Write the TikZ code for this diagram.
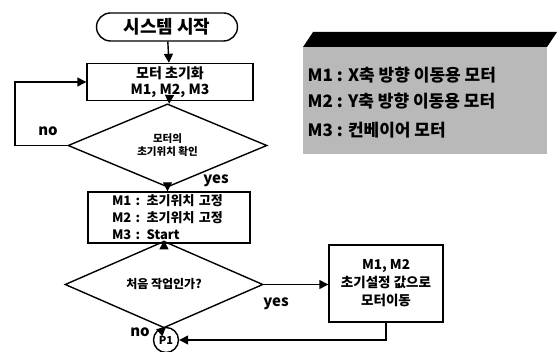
\documentclass[tikz,border=0pt]{standalone}
\usepackage{fontspec}
\setmainfont{Noto Sans CJK KR}
\usetikzlibrary{shapes.geometric,arrows.meta}
\begin{document}
\begin{tikzpicture}[x=1pt,y=-1pt,line width=1.4pt,
  arr/.style={-{Triangle[length=9pt,width=9pt]}},
  procbox/.style={draw,rectangle,inner sep=2pt,align=center,font=\bfseries},
  decbox/.style={draw,diamond,inner sep=0pt,align=center,font=\bfseries},
  lbl/.style={font=\bfseries\fontsize{15}{15}\selectfont,inner sep=0pt},
  legtxt/.style={anchor=west,inner sep=0pt,font=\bfseries\fontsize{17}{17}\selectfont}]
\useasboundingbox (0,0) rectangle (557,352);
% start
\node[draw,rectangle,rounded corners=14pt,minimum width=141pt,minimum height=28pt,
      font=\bfseries\fontsize{18}{18}\selectfont] (st) at (167,27) {시스템 시작};
\node[procbox,minimum width=166pt,minimum height=37pt,font=\bfseries\fontsize{14}{16}\selectfont] (b1) at (170,82) {모터 초기화\\M1, M2, M3};
\node[decbox,minimum width=199pt,minimum height=61pt,font=\bfseries\fontsize{10.5}{13}\selectfont] (d1) at (167.5,145.5) {모터의\\초기위치 확인};
\node[procbox,minimum width=162pt,minimum height=51pt,align=left,text width=150pt,
      font=\bfseries\fontsize{13}{17}\selectfont] (b2) at (169,217.5) {\hspace*{18pt}M1 : 초기위치 고정\\\hspace*{18pt}M2 : 초기위치 고정\\\hspace*{18pt}M3 : Start};
\node[decbox,minimum width=198pt,minimum height=45pt,font=\bfseries\fontsize{12}{12}\selectfont] (d2) at (164,284.5) {처음 작업인가?};
\node[procbox,minimum width=114pt,minimum height=77pt,font=\bfseries\fontsize{13.5}{18}\selectfont] (b3) at (386,283.5) {M1, M2\\초기설정 값으로\\모터이동};
\node[draw,circle,minimum size=25pt,inner sep=0pt,font=\bfseries\fontsize{11}{11}\selectfont] (p1) at (166,340) {P1};
\coordinate (lp) at (15,145.5);
% connectors
\draw[arr] (st) -- (b1);
\draw[arr] (b1) -- (d1);
\draw[arr] (d1.west) -- (lp) |- (b1.west);
\draw[arr] (d1.south) -- (b2.north -| d1.south);
\draw[arr] (b2.south -| d2.north) -- (d2.north);
\draw[arr] (d2.east) -- (b3.west |- d2.east);
\draw[arr] (d2.south) -- (p1.north);
\draw[arr] (b3.south) |- (p1.east);
% labels
\node[lbl] (lno1) at (48,131) {no};
\node[lbl] (lyes1) at (216,181) {yes};
\node[lbl] (lyes2) at (276,304) {yes};
\node[lbl] (lno2) at (140,332) {no};
% legend
\fill[gray!55] (303,47) rectangle (547,154);
\fill[black] (303,47) -- (313,32) -- (557,32) -- (547,47) -- cycle;
\node[legtxt] (m1) at (307,75) {M1 : X축 방향 이동용 모터};
\node[legtxt] (m2) at (307,101) {M2 : Y축 방향 이동용 모터};
\node[legtxt] (m3) at (307,130) {M3 : 컨베이어 모터};
\end{tikzpicture}
\end{document}
